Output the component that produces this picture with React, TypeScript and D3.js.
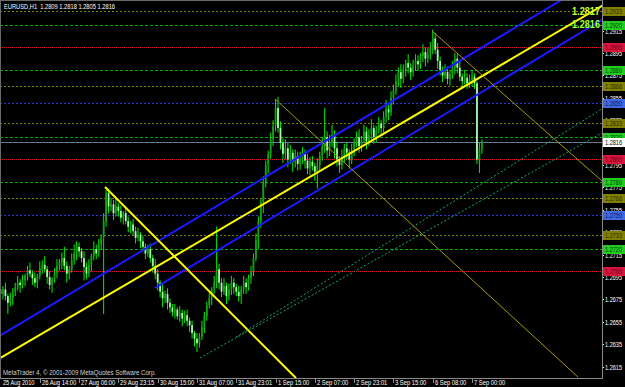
import React from "react";
import * as d3 from "d3";

const W = 625;
const H = 387;
const PLOT_R = 602;
const PLOT_B = 378;

const titleText = "EURUSD,H1  1.2809 1.2818 1.2805 1.2816";
const copyrightText = "MetaTrader 4, \u00a9 2001-2009 MetaQuotes Software Corp.";

const firstOpen = 1.2684;
const closes = [
  1.2680, 1.2684, 1.2678, 1.2672, 1.2676, 1.2682, 1.2686, 1.2690, 1.2688,
  1.2692, 1.2696, 1.2701, 1.2698, 1.2694, 1.2690, 1.2696, 1.2703,
  1.2706, 1.2702, 1.2695, 1.2688, 1.2693, 1.2699, 1.2705, 1.2708,
  1.2712, 1.2705, 1.2698, 1.2702, 1.2710, 1.2716, 1.2722, 1.2718,
  1.2712, 1.2704, 1.2698, 1.2706, 1.2714, 1.2720, 1.2716, 1.2724,
  1.2730, 1.2745, 1.2770, 1.2758,
  1.2760, 1.2752, 1.2758, 1.2754, 1.2748, 1.2752, 1.2745, 1.2740,
  1.2742, 1.2736, 1.2730, 1.2733, 1.2727, 1.2722, 1.2716, 1.2720,
  1.2712, 1.2705, 1.2698, 1.2690, 1.2682, 1.2676, 1.2680, 1.2672,
  1.2668, 1.2664, 1.2666, 1.2660, 1.2663, 1.2658, 1.2661, 1.2656,
  1.2652, 1.2645, 1.2640, 1.2636, 1.2642, 1.2650,
  1.2660, 1.2670, 1.2676, 1.2684, 1.2690, 1.2702,
  1.2690, 1.2682, 1.2687, 1.2678, 1.2684, 1.2690, 1.2686, 1.2682,
  1.2678, 1.2684, 1.2690, 1.2686, 1.2694, 1.2700, 1.2712, 1.2728,
  1.2745, 1.2762, 1.2780, 1.2795, 1.2805, 1.2818, 1.2830, 1.2846,
  1.2828, 1.2815, 1.2805, 1.2810, 1.2800, 1.2806, 1.2798, 1.2803,
  1.2796, 1.2800, 1.2806, 1.2799, 1.2792, 1.2798, 1.2794, 1.2789,
  1.2795, 1.2803, 1.2812, 1.2820, 1.2808, 1.2815, 1.2822, 1.2810,
  1.2800, 1.2795, 1.2802, 1.2810, 1.2806, 1.2800, 1.2808, 1.2815,
  1.2820, 1.2812, 1.2818, 1.2825, 1.2816, 1.2822, 1.2828, 1.2820,
  1.2826, 1.2832, 1.2828, 1.2838, 1.2845, 1.2842, 1.2855, 1.2862,
  1.2870, 1.2878, 1.2872, 1.2880, 1.2886, 1.2882, 1.2878, 1.2884,
  1.2888, 1.2885, 1.2892, 1.2896, 1.2890, 1.2894, 1.2900, 1.2908,
  1.2898, 1.2888, 1.2880, 1.2875, 1.2878, 1.2872, 1.2876, 1.2882,
  1.2890, 1.2882, 1.2874, 1.2870, 1.2873, 1.2868, 1.2871, 1.2874,
  1.2868, 1.2800, 1.2809, 1.2816,
];
// wick lengths in pips above max(open, close) / below min(open, close)
const upWick = [
  4, 3, 6, 2, 5, 3, 4, 6, 3,
  5, 2, 4, 7, 3, 5, 2, 6,
  4, 8, 3, 5, 2, 4, 6, 3,
  5, 10, 4, 3, 6, 8, 5, 4,
  3, 6, 4, 5, 2, 7, 4, 5,
  3, 7, 3, 4,
  6, 4, 8, 3, 5, 2, 6, 4,
  3, 5, 4, 6, 2, 5, 3, 4,
  5, 3, 6, 4, 2, 7, 3, 5,
  4, 3, 5, 2, 6, 3, 4, 5,
  3, 4, 2, 5, 3, 6,
  4, 3, 5, 2, 6, 38,
  5, 4, 7, 3, 5, 6, 4, 3,
  5, 3, 6, 4, 3, 5, 4, 6,
  4, 3, 5, 4, 3, 6, 5, 8,
  10, 6, 4, 8, 5, 7, 3, 6,
  4, 7, 5, 3, 6, 4, 5, 3,
  6, 4, 8, 26, 5, 7, 9, 4,
  6, 3, 7, 4, 5, 3, 6, 4,
  5, 7, 3, 6, 4, 5, 8, 3,
  4, 6, 3, 5, 8, 4, 6, 5,
  6, 4, 7, 5, 3, 8, 4, 5,
  6, 5, 3, 7, 4, 6, 5, 8,
  5, 6, 4, 3, 7, 5, 4, 6,
  5, 4, 6, 3, 7, 4, 5, 6,
  3, 2, 6, 2,
];
const dnWick = [
  8, 5, 4, 10, 3, 6, 4, 3, 7,
  3, 5, 4, 3, 6, 4, 5, 3,
  5, 3, 6, 4, 7, 3, 5, 4,
  6, 4, 8, 5, 3, 4, 6, 5,
  4, 12, 5, 3, 6, 4, 5, 3,
  4, 68, 5, 6,
  4, 6, 3, 5, 4, 6, 3, 5,
  6, 4, 5, 3, 6, 4, 5, 3,
  4, 6, 5, 7, 5, 8, 4, 6,
  5, 4, 6, 3, 5, 7, 4, 5,
  6, 5, 7, 8, 4, 3,
  5, 4, 3, 6, 4, 5,
  6, 5, 3, 7, 4, 5, 6, 4,
  5, 7, 4, 6, 3, 5, 4, 3,
  8, 6, 10, 5, 7, 4, 6, 5,
  4, 6, 8, 5, 7, 4, 9, 5,
  6, 5, 4, 7, 5, 6, 4, 8,
  15, 5, 4, 6, 7, 5, 4, 9,
  6, 7, 4, 5, 6, 8, 4, 5,
  4, 6, 5, 3, 7, 4, 5, 6,
  5, 3, 6, 4, 5, 7, 3, 6,
  4, 5, 8, 4, 6, 5, 7, 4,
  5, 6, 4, 5, 7, 4, 5, 6,
  4, 7, 5, 6, 3, 5, 6, 4,
  6, 5, 4, 7, 3, 5, 4, 6,
  5, 4, 12, 4,
];

const timeLabels = [
  "25 Aug 2010", "26 Aug 14:00", "27 Aug 06:00", "29 Aug 23:15", "30 Aug 15:00",
  "31 Aug 07:00", "31 Aug 23:01", "1 Sep 15:00", "2 Sep 07:00", "2 Sep 23:01",
  "3 Sep 15:00", "6 Sep 08:00", "7 Sep 00:00",
];
const barsPerLabel = 16;

const priceTicks = [
  1.2915, 1.2895, 1.2875, 1.2855, 1.2835, 1.2815, 1.2795, 1.2775,
  1.2755, 1.2735, 1.2715, 1.2695, 1.2675, 1.2655, 1.2635, 1.2615,
];

const oliveLevels = [1.2933, 1.2866, 1.2833, 1.2766, 1.2733];
const greenLevels = [1.2920, 1.2880, 1.2820, 1.2780, 1.2720];
const redLevels = [1.2900, 1.2800, 1.2700];
const blueLevels = [1.2850, 1.2750];
const bidPrice = 1.2816;

const bigLabels = ["1.2817", "1.2816"];

// trend lines: [barIndex1, price1, barIndex2, price2]
const channelUpper = [0, 1.2643, 219.7, 1.2931];
const channelMedian = [0, 1.26228, 244.9, 1.29371];
const channelLower = [62.9, 1.26853, 244.9, 1.29246];
const fallLine = [42.55, 1.27754, 120.3, 1.26049];
const thinFall1 = [111.8, 1.2854, 235.1, 1.26058];
const thinFall2 = [175.7, 1.29147, 244.9, 1.27808];
const dottedA = [81.2, 1.26228, 244.9, 1.28237];
const dottedB = [95.9, 1.26415, 244.9, 1.28451];

const fmt = (p: number) => p.toFixed(4);

export default function App() {
  const x = d3.scaleLinear().domain([0, 245]).range([0.5, 0.5 + 245 * 2.456]);
  const y = d3.scaleLinear().domain([1.26049, 1.29424]).range([PLOT_B, 0]);

  const bars = closes.map((c, i) => {
    const o = i === 0 ? firstOpen : closes[i - 1];
    const h = Math.max(o, c) + upWick[i] * 0.0001;
    const l = Math.min(o, c) - dnWick[i] * 0.0001;
    return { i, o, h, l, c };
  });

  const seg = (ln: number[], ray: boolean) => {
    const [i1, p1, i2, p2] = ln;
    let ie = i2;
    let pe = p2;
    if (ray) {
      ie = 260;
      pe = p1 + ((p2 - p1) * (ie - i1)) / (i2 - i1);
    }
    return { x1: x(i1), y1: y(p1), x2: x(ie), y2: y(pe) };
  };

  const levelLine = (p: number, color: string, dash: string, key: string) => (
    <line key={key} x1={0} x2={PLOT_R} y1={Math.round(y(p)) + 0.5} y2={Math.round(y(p)) + 0.5}
      stroke={color} strokeWidth={1} strokeDasharray={dash || undefined} />
  );

  const levelBox = (p: number, bg: string, fg: string, key: string) => {
    const yy = Math.round(y(p));
    return (
      <g key={key}>
        <rect x={603} y={yy - 4} width={22} height={9} fill={bg} />
        <text x={605} y={yy + 3} fill={fg} fontSize={7} textLength={17} lengthAdjust="spacingAndGlyphs">{fmt(p)}</text>
      </g>
    );
  };

  const font = "'Liberation Sans', Arial, sans-serif";

  const lines = [
    { ln: channelUpper, ray: true, color: "#1a1aff", w: 2, dash: "" },
    { ln: channelMedian, ray: true, color: "#ffff00", w: 2, dash: "" },
    { ln: channelLower, ray: true, color: "#1a1aff", w: 2, dash: "" },
    { ln: fallLine, ray: false, color: "#ffff00", w: 2, dash: "" },
    { ln: thinFall1, ray: false, color: "#a89a10", w: 1, dash: "" },
    { ln: thinFall2, ray: true, color: "#a89a10", w: 1, dash: "" },
    { ln: dottedA, ray: true, color: "#14a86a", w: 1, dash: "2,2" },
    { ln: dottedB, ray: true, color: "#14a86a", w: 1, dash: "2,2" },
  ];

  return (
    <svg width={W} height={H} style={{ position: "absolute", left: 0, top: 0, background: "#000" }}
      fontFamily={font}>
      <defs>
        <clipPath id="plot">
          <rect x={0} y={0} width={PLOT_R} height={PLOT_B} />
        </clipPath>
      </defs>
      <rect x={0} y={0} width={W} height={H} fill="#000" />

      <g clipPath="url(#plot)">
        {oliveLevels.map((p, k) => levelLine(p, "#808000", "2,2", "ol" + k))}
        {greenLevels.map((p, k) => levelLine(p, "#00b000", "3,2", "gl" + k))}
        {redLevels.map((p, k) => levelLine(p, "#e0102c", "1,1", "rl" + k))}
        {blueLevels.map((p, k) => levelLine(p, "#2a3ad0", "2,2", "bl" + k))}
        {levelLine(bidPrice, "#6a7a8a", "", "bid")}

        {bars.map((b) => {
          const cx = x(b.i);
          const bull = b.c >= b.o;
          const top = y(Math.max(b.o, b.c));
          const bot = y(Math.min(b.o, b.c));
          return (
            <g key={"c" + b.i}>
              <line x1={cx} x2={cx} y1={y(b.h)} y2={y(b.l)} stroke="#00f000" strokeWidth={1} />
              <rect x={cx - 0.9} y={top} width={1.8} height={Math.max(1, bot - top)}
                fill={bull ? "#14a014" : "#a8f8a8"} />
            </g>
          );
        })}

        {lines.map((l, k) => {
          const s = seg(l.ln, l.ray);
          return (
            <line key={"t" + k} x1={s.x1} y1={s.y1} x2={s.x2} y2={s.y2} stroke={l.color}
              strokeWidth={l.w} strokeDasharray={l.dash || undefined} />
          );
        })}
      </g>

      {/* frame */}
      <line x1={0} x2={PLOT_R} y1={PLOT_B + 0.5} y2={PLOT_B + 0.5} stroke="#8a8a8a" />
      <line x1={PLOT_R + 0.5} x2={PLOT_R + 0.5} y1={0} y2={PLOT_B + 1} stroke="#8a8a8a" />
      <line x1={0} x2={PLOT_R} y1={0.5} y2={0.5} stroke="#6a6a6a" />
      <line x1={0.5} x2={0.5} y1={0} y2={PLOT_B} stroke="#6a6a6a" />

      {/* price axis */}
      {priceTicks.map((p) => {
        const yy = Math.round(y(p));
        return (
          <g key={"pt" + p}>
            <line x1={603} x2={604} y1={yy + 0.5} y2={yy + 0.5} stroke="#ffffff" />
            <text x={605} y={yy + 3} fill="#ffffff" fontSize={7} textLength={17}
              lengthAdjust="spacingAndGlyphs">{fmt(p)}</text>
          </g>
        );
      })}
      {oliveLevels.map((p, k) => levelBox(p, "#808000", "#2a2a00", "ob" + k))}
      {greenLevels.map((p, k) => levelBox(p, "#22cc22", "#004400", "gb" + k))}
      {redLevels.map((p, k) => levelBox(p, "#dc143c", "#5a0010", "rb" + k))}
      {blueLevels.map((p, k) => levelBox(p, "#4169e1", "#0a1a60", "bb" + k))}
      {levelBox(bidPrice, "#ffffff", "#000000", "bidb")}

      {/* time axis */}
      {timeLabels.map((t, k) => {
        const xx = Math.round(x(k * barsPerLabel));
        return (
          <g key={"tl" + k}>
            {k > 0 && <line x1={xx + 0.5} x2={xx + 0.5} y1={PLOT_B} y2={PLOT_B + 5} stroke="#8a8a8a" />}
            <text x={xx + 2} y={385} fill="#ffffff" fontSize={7} textLength={t.length * 2.85}
              lengthAdjust="spacingAndGlyphs">{t}</text>
          </g>
        );
      })}

      {/* texts */}
      <text x={4} y={9} fill="#ffffff" fontSize={7} textLength={111} lengthAdjust="spacingAndGlyphs"
        xmlSpace="preserve">{titleText}</text>
      <text x={3} y={375} fill="#d0d0d0" fontSize={7} textLength={153} lengthAdjust="spacingAndGlyphs">{copyrightText}</text>
      <text x={600} y={15} fill="#c8ff30" fontSize={11} fontWeight="bold" textAnchor="end"
        textLength={28} lengthAdjust="spacingAndGlyphs">{bigLabels[0]}</text>
      <text x={600} y={28} fill="#a0ff30" fontSize={11} fontWeight="bold" textAnchor="end"
        textLength={28} lengthAdjust="spacingAndGlyphs">{bigLabels[1]}</text>
    </svg>
  );
}
